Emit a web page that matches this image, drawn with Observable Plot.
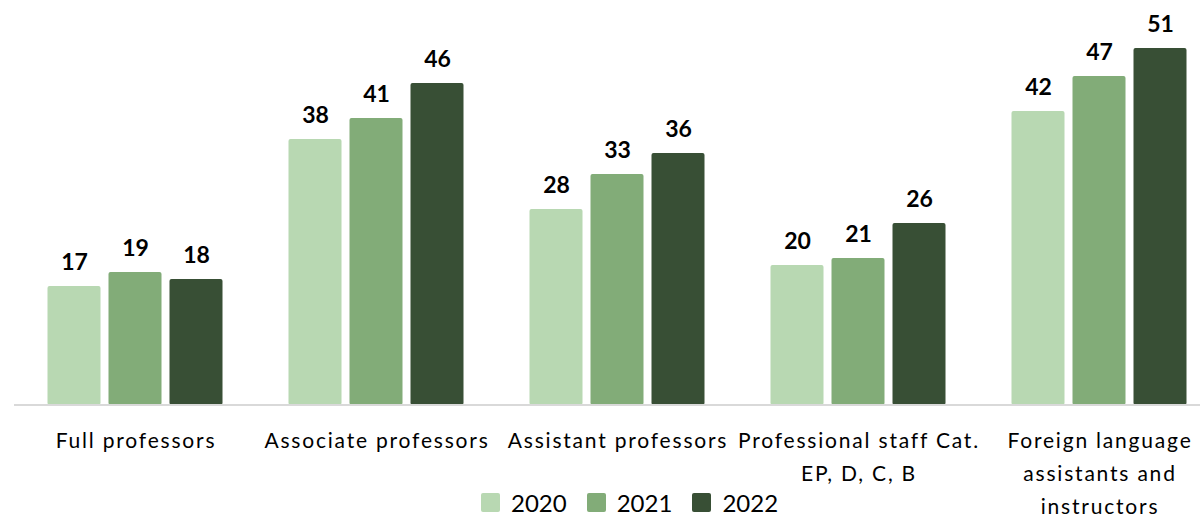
<!DOCTYPE html>
<html><head><meta charset="utf-8">
<script src="https://cdn.jsdelivr.net/npm/d3@7"></script>
<script src="https://cdn.jsdelivr.net/npm/@observablehq/plot@0.6"></script>
<style>
body{margin:0;background:#fff;font-family:Lato,sans-serif}
#wrap{position:relative;width:1200px;height:514px;overflow:hidden}
#chart svg{max-width:none !important;height:514px !important}
#chart svg g[font-size="21"], #chart svg g[font-size="21"] text{letter-spacing:1.8px}
#legend{position:absolute;left:481px;top:493px;display:flex;align-items:center;font-size:24px;color:#000;line-height:19px}
.item{display:flex;align-items:center;margin-right:20px}
.sw{width:19px;height:19px;border-radius:2px;margin-right:11px}
</style></head><body>
<div id="wrap"><div id="chart"></div><div id="legend"></div></div>
<script>
const categories = ["Full professors","Associate professors","Assistant professors","Professional staff Cat. EP, D, C, B","Foreign language assistants and instructors"];
const categoryLabels = ["Full professors","Associate professors","Assistant professors","Professional staff Cat.\nEP, D, C, B","Foreign language\nassistants and\ninstructors"];
const years = ["2020","2021","2022"];
const values2020 = [17,38,28,20,42];
const values2021 = [19,41,33,21,47];
const values2022 = [18,46,36,26,51];
const colors = ["#b8d8b2","#82ac78","#384f35"];

const series = [values2020, values2021, values2022];
const data = [];
categories.forEach((c, i) => years.forEach((y, j) => data.push({category: c, year: y, value: series[j][i]})));

const chart = Plot.plot({
  width: 1219, height: 514,
  marginLeft: 13.5, marginRight: 0.5, marginTop: 0, marginBottom: 109,
  style: {fontFamily: "Lato, sans-serif", background: "white", maxWidth: "none"},
  fx: {domain: categories, padding: 0, axis: null, label: null},
  x: {domain: years, paddingInner: 0.138, paddingOuter: 0.528, axis: null, label: null},
  y: {domain: [0, 405 / 7], axis: null, label: null},
  color: {domain: years, range: colors},
  marks: [
    Plot.barY(data, {fx: "category", x: "year", y: "value", fill: "year", rx: 2}),
    Plot.ruleY([0], {stroke: "#d9d9d9", strokeWidth: 2, dy: -0.5}),
    Plot.text(data, {fx: "category", x: "year", y: "value", text: d => String(d.value), dy: -17, lineAnchor: "bottom", fontWeight: "bold", fontSize: 23, fill: "#000"}),
    Plot.text(categories, {fx: d => d, text: (d, i) => categoryLabels[i], frameAnchor: "bottom", lineAnchor: "top", dy: 19, dx: 1, fontSize: 21, lineHeight: 1.57, fill: "#000"})
  ]
});
chart.style.maxWidth = "none";
document.getElementById("chart").appendChild(chart);

const legend = document.getElementById("legend");
years.forEach((y, j) => {
  const it = document.createElement("div"); it.className = "item";
  const sw = document.createElement("div"); sw.className = "sw"; sw.style.background = colors[j];
  const t = document.createElement("span"); t.textContent = y;
  it.appendChild(sw); it.appendChild(t); legend.appendChild(it);
});
</script>
</body></html>
